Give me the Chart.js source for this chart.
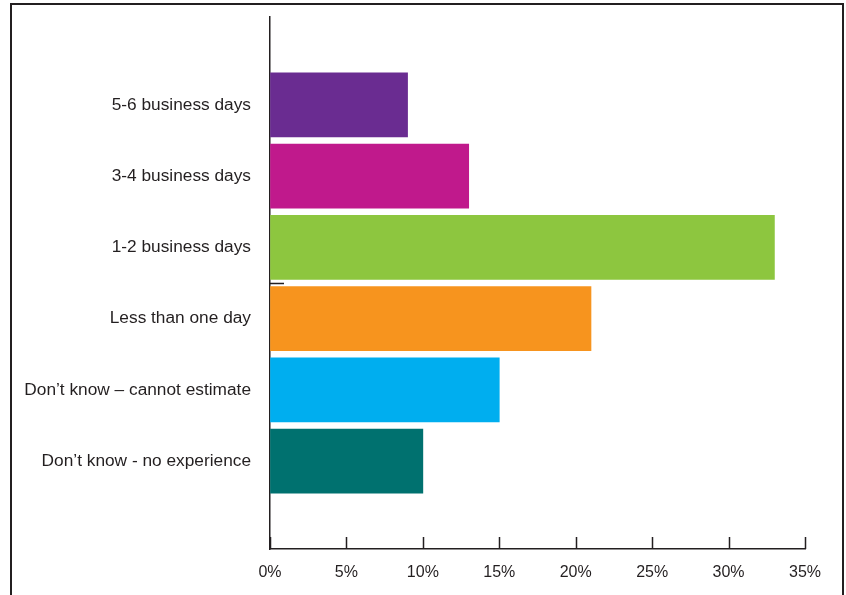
<!DOCTYPE html>
<html>
<head>
<meta charset="utf-8">
<script src="https://cdn.jsdelivr.net/npm/chart.js@4.4.0/dist/chart.umd.min.js"></script>
<style>
  html, body { margin: 0; padding: 0; background: #fff; }
  #wrap { position: relative; width: 846px; height: 595px; overflow: hidden; }
  #frame { position: absolute; left: 10px; top: 3px; width: 834px; height: 620px;
           border: 2px solid #231f20; border-bottom: none; box-sizing: border-box; }
  #chart { position: absolute; left: 0; top: 0; }
</style>
</head>
<body>
<div id="wrap">
  <div id="frame"></div>
  <canvas id="chart" width="846" height="595"></canvas>
</div>
<script>
// Kategorien von oben nach unten
const categories = [
    "5-6 business days",
    "3-4 business days",
    "1-2 business days",
    "Less than one day",
    "Don\u2019t know \u2013 cannot estimate",
    "Don\u2019t know - no experience"
];
const values = [9, 13, 33, 21, 15, 10];
const barColors = ["#6a2c91", "#c0198c", "#8dc63f", "#f7941e", "#00aeef", "#00716f"];
const xTicks = [0, 5, 10, 15, 20, 25, 30, 35];

const axisColor = "#231f20";
const font = "'Liberation Sans', Arial, Helvetica, sans-serif";

// Kurze Tickstriche nach innen zeichnen
const innerTicks = {
    id: "innerTicks",
    afterDraw(chart) {
        const ctx = chart.ctx;
        const xs = chart.scales.x;
        const ys = chart.scales.y;
        ctx.save();
        ctx.strokeStyle = axisColor;
        ctx.lineWidth = 1.5;
        ctx.beginPath();
        xTicks.forEach(v => {
            const px = Math.round(xs.getPixelForValue(v)) + 0.5;
            ctx.moveTo(px, ys.bottom);
            ctx.lineTo(px, ys.bottom - 12);
        });
        // kleiner Strich zwischen 1-2 und Less than one day
        const py = Math.round(ys.getPixelForValue(2.5)) + 0.5;
        ctx.moveTo(xs.left, py);
        ctx.lineTo(xs.left + 14, py);
        ctx.stroke();
        ctx.restore();
    }
};

const ctx = document.getElementById("chart").getContext("2d");
new Chart(ctx, {
    type: "bar",
    data: {
        datasets: [{
            data: values.map((v, i) => ({ x: v, y: i })),
            backgroundColor: barColors,
            borderWidth: 0,
            barThickness: 64
        }]
    },
    options: {
        indexAxis: "y",
        responsive: false,
        animation: false,
        layout: { padding: { top: 17, right: 41, left: 0, bottom: 0 } },
        plugins: { legend: { display: false }, tooltip: { enabled: false } },
        scales: {
            x: {
                type: "linear",
                min: 0,
                max: 35,
                afterBuildTicks: s => { s.ticks = xTicks.map(v => ({ value: v })); },
                afterFit: s => { s.height = 46; },
                grid: { display: true, drawOnChartArea: false, drawTicks: false },
                border: { color: axisColor, width: 1.5 },
                ticks: {
                    padding: 14,
                    color: axisColor,
                    font: { family: font, size: 16 },
                    callback: v => v + "%"
                }
            },
            y: {
                type: "linear",
                offset: false,
                min: -1.235,
                max: 6.235,
                reverse: true,
                afterBuildTicks: s => { s.ticks = categories.map((c, i) => ({ value: i })); },
                afterFit: s => { s.width = 270; s.paddingTop = 0; s.paddingBottom = 0; },
                grid: { display: true, drawOnChartArea: false, drawTicks: false, offset: false },
                border: { color: axisColor, width: 1.5 },
                ticks: {
                    padding: 19,
                    color: axisColor,
                    font: { family: font, size: 17.3 },
                    callback: v => categories[v]
                }
            }
        }
    },
    plugins: [innerTicks]
});
</script>
</body>
</html>
